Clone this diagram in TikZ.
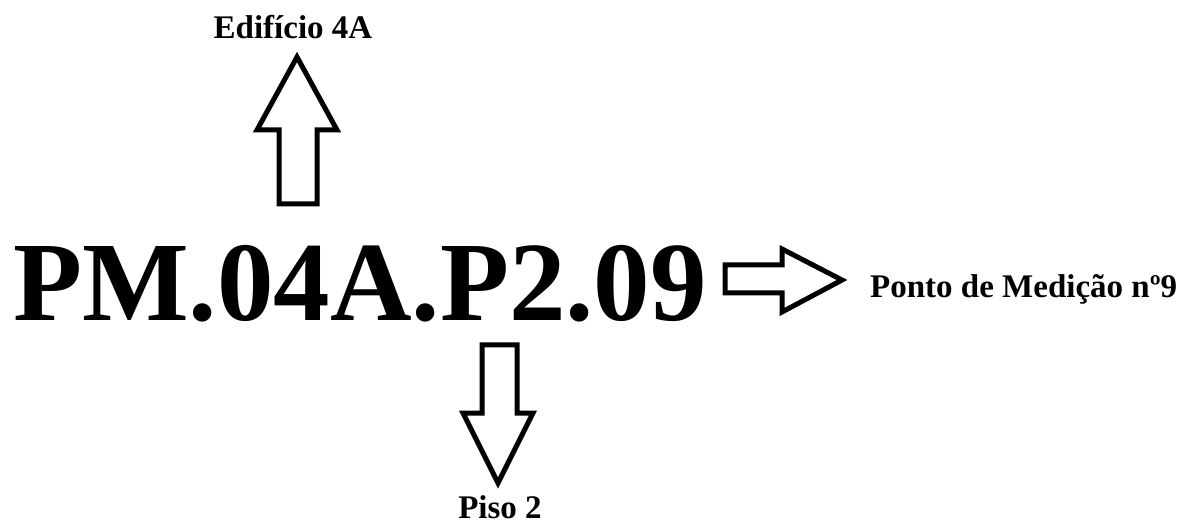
\documentclass[tikz,border=0pt]{standalone}
\usepackage{fontspec}
\setmainfont{Liberation Serif}
\usetikzlibrary{positioning}

\begin{document}
\begin{tikzpicture}[x=1pt,y=-1pt,every node/.style={inner sep=0pt,font=\bfseries\fontsize{33}{36}\selectfont},
  hollow/.style={draw,line width=5pt,fill=white,miter limit=20}]
\useasboundingbox (0,0) rectangle (1188,526);
\node[anchor=base west,font=\bfseries\fontsize{113}{120}\selectfont] (code) at (13,321) {PM.04A.P2.09};
\node[anchor=base] (building) at (293,39) {Edifício 4A};
\node[anchor=base west] (point) at (870,298) {Ponto de Medição nº9};
\node[anchor=base] (floor) at (500,518) {Piso 2};
% block arrows
\draw[hollow] (279,204)--(279,130)--(257,130)--(297,57)--(337,130)--(317,130)--(317,204)--cycle;
\draw[hollow] (725,265)--(782,265)--(782,249)--(842,280)--(782,312)--(782,293)--(725,293)--cycle;
\draw[hollow] (482,345)--(517,345)--(517,413)--(533,413)--(498,483)--(463,413)--(482,413)--cycle;
\end{tikzpicture}
\end{document}
